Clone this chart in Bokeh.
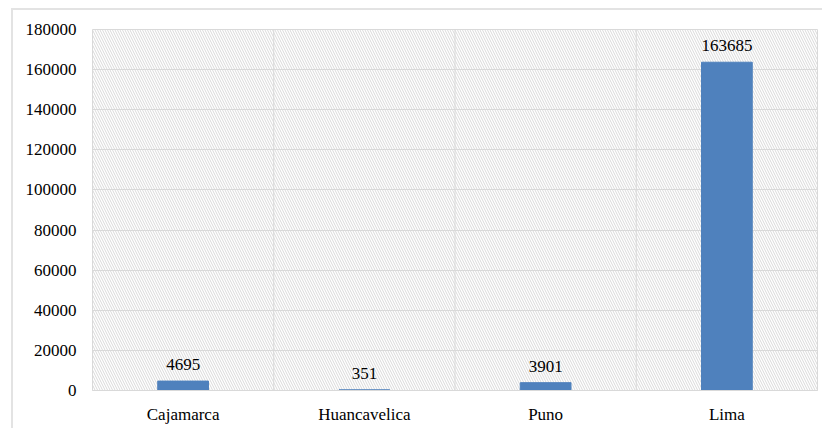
from bokeh.plotting import figure
from bokeh.models import ColumnDataSource, LabelSet, BoxAnnotation, Span, FixedTicker, FactorRange, Range1d
from bokeh.embed import file_html
from bokeh.resources import INLINE

categories = ["Cajamarca", "Huancavelica", "Puno", "Lima"]
values = [4695, 351, 3901, 163685]
y_ticks = [0, 20000, 40000, 60000, 80000, 100000, 120000, 140000, 160000, 180000]

FONT = "Times New Roman"
GRID = "#d9d9d9"

source = ColumnDataSource(dict(cat=categories, val=values, lab=[str(v) for v in values]))

p = figure(x_range=FactorRange(*categories, range_padding=0),
           y_range=Range1d(0, 180000),
           width=811, height=420, output_backend="svg", toolbar_location=None,
           min_border_left=79, min_border_top=19, min_border_bottom=40, min_border_right=7)
p.styles = {"border-top": "2px solid #e3e3e3", "border-left": "2px solid #e3e3e3",
            "margin-left": "11px", "margin-top": "8px"}

p.background_fill_color = "white"
p.border_fill_color = "white"
p.outline_line_color = GRID

hatch = BoxAnnotation(fill_alpha=0, line_alpha=0, hatch_pattern="\\", hatch_color=GRID,
                      hatch_scale=5, hatch_weight=1, level="underlay")
p.add_layout(hatch)

for i in range(1, len(categories)):
    p.add_layout(Span(location=i, dimension="height", line_color=GRID, line_width=1, level="underlay"))

p.vbar(x="cat", top="val", width=0.28, source=source, color="#4f81bd")

labels = LabelSet(x="cat", y="val", text="lab", source=source, text_align="center",
                  text_baseline="alphabetic", y_offset=11, text_font=FONT,
                  text_font_size="17px", text_color="black")
p.add_layout(labels)

p.xgrid.grid_line_color = None
p.ygrid.grid_line_color = GRID
p.ygrid.ticker = FixedTicker(ticks=y_ticks)
p.yaxis.ticker = FixedTicker(ticks=y_ticks)
p.yaxis.formatter.use_scientific = False
p.yaxis.axis_line_color = None
p.yaxis.major_tick_line_color = None
p.yaxis.minor_tick_line_color = None
p.yaxis.major_label_standoff = 10
p.xaxis.axis_line_color = GRID
p.xaxis.major_tick_line_color = None
p.xaxis.major_label_standoff = 8
for ax in (p.xaxis, p.yaxis):
    ax.major_label_text_font = FONT
    ax.major_label_text_font_size = "17px"
    ax.major_label_text_color = "black"

open("out.html", "w").write(file_html(p, INLINE))
